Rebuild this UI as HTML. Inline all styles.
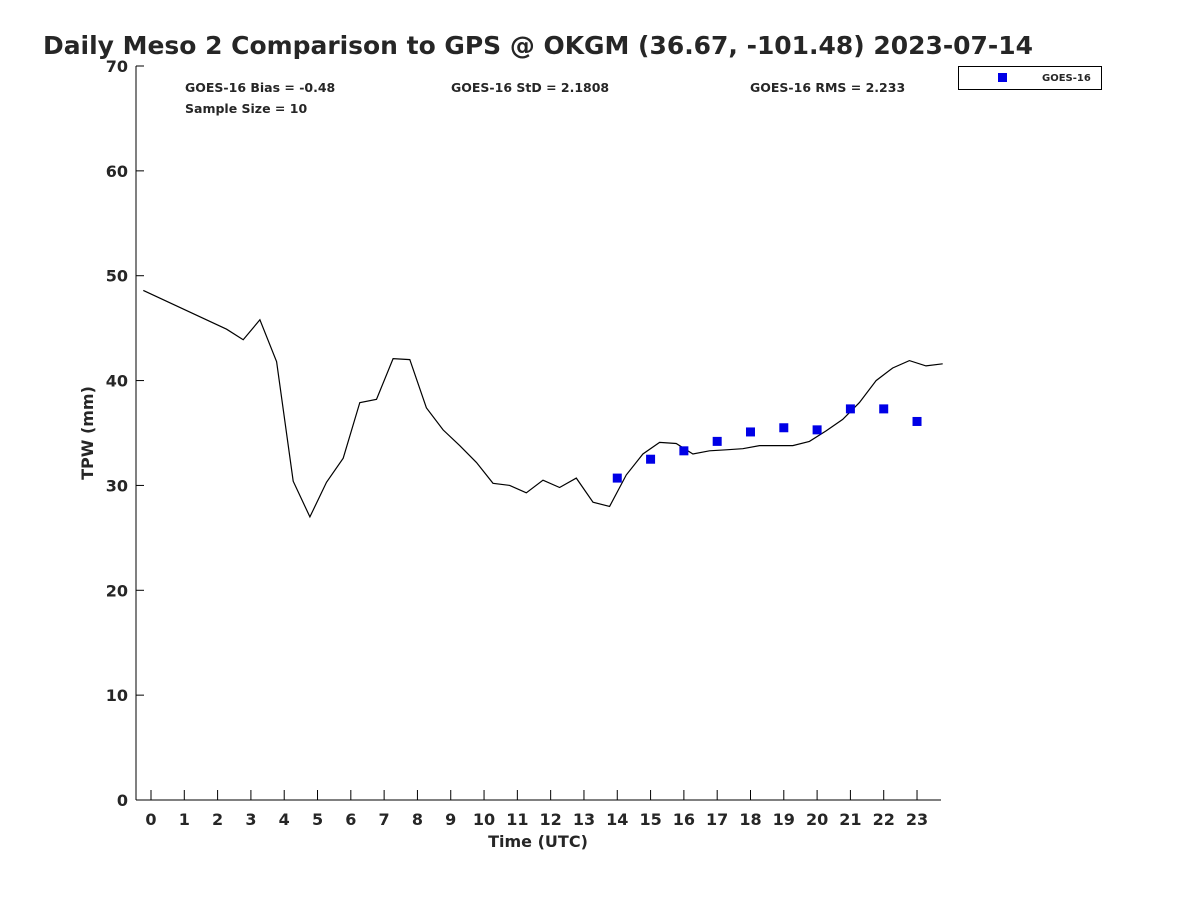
<!DOCTYPE html>
<html><head><meta charset="utf-8"><style>
body{margin:0;background:#fff;}
svg text{font-family:"DejaVu Sans","Liberation Sans",sans-serif;font-weight:bold;fill:#262626;}
</style></head><body>
<svg id="chart" width="1200" height="900" xmlns="http://www.w3.org/2000/svg">
<text x="43" y="54" font-size="25" textLength="990" lengthAdjust="spacingAndGlyphs">Daily Meso 2 Comparison to GPS @ OKGM (36.67, -101.48) 2023-07-14</text>
<g font-size="12.5">
<text x="185" y="92">GOES-16 Bias = -0.48</text>
<text x="185" y="113">Sample Size = 10</text>
<text x="451" y="92">GOES-16 StD = 2.1808</text>
<text x="750" y="92">GOES-16 RMS = 2.233</text>
</g>
<g>
<rect x="958.5" y="66.5" width="143" height="23" fill="#fff" stroke="#000" stroke-width="1"/>
<rect x="998" y="73" width="9" height="9" fill="#0000e6"/>
<text x="1042" y="81" font-size="10">GOES-16</text>
</g>
<g id="axes"></g>
<g id="marks"></g>
<text x="538" y="847" font-size="16" text-anchor="middle">Time (UTC)</text>
<text transform="translate(93,433) rotate(-90)" font-size="16" text-anchor="middle">TPW (mm)</text>
</svg>
<script>
const gpsTimes=[-0.23,2.27,2.77,3.27,3.77,4.27,4.77,5.27,5.77,6.27,6.77,7.27,7.77,8.27,8.77,9.27,9.77,10.27,10.77,11.27,11.77,12.27,12.77,13.27,13.77,14.27,14.77,15.27,15.77,16.27,16.77,17.27,17.77,18.27,18.77,19.27,19.77,20.27,20.77,21.27,21.77,22.27,22.77,23.27,23.77];
const gpsValues=[48.6,44.9,43.9,45.8,41.8,30.4,27.0,30.3,32.6,37.9,38.2,42.1,42.0,37.4,35.3,33.8,32.2,30.2,30.0,29.3,30.5,29.8,30.7,28.4,28.0,31.0,33.0,34.1,34.0,33.0,33.3,33.4,33.5,33.8,33.8,33.8,34.2,35.2,36.3,37.9,40.0,41.2,41.9,41.4,41.6];
const goesTimes=[14,15,16,17,18,19,20,21,22,23];
const goesValues=[30.7,32.5,33.3,34.2,35.1,35.5,35.3,37.3,37.3,36.1];
const xTicks=[0,1,2,3,4,5,6,7,8,9,10,11,12,13,14,15,16,17,18,19,20,21,22,23];
const yTicks=[0,10,20,30,40,50,60,70];
const NS='http://www.w3.org/2000/svg';
const X0=136,X1=941,Y0=800,Y1=66;
const xMin=-0.45,xMax=23.72,yMin=0,yMax=70;
function xs(h){return X0+(h-xMin)/(xMax-xMin)*(X1-X0);}
function ys(v){return Y0-(v-yMin)/(yMax-yMin)*(Y0-Y1);}
function mk(tag,attrs,parent){const e=document.createElementNS(NS,tag);for(const k in attrs)e.setAttribute(k,attrs[k]);parent.appendChild(e);return e;}
const axes=document.getElementById('axes'),marks=document.getElementById('marks');
let e=mk('line',{x1:X0,y1:Y1,x2:X0,y2:Y0,stroke:'#000','stroke-width':1},axes);


e=mk('line',{x1:X0,y1:Y0,x2:X1,y2:Y0,stroke:'#000','stroke-width':1},axes);


yTicks.forEach(v=>{
 const y=ys(v);
 let t=mk('line',{x1:X0,y1:y,x2:X0+8,y2:y,stroke:'#000'},axes);
 
 
 let l=mk('text',{x:X0-8,y:y+6,'font-size':16,'text-anchor':'end'},axes);
 l.textContent=v;
 
 
});
xTicks.forEach(h=>{
 const x=xs(h);
 let t=mk('line',{x1:x,y1:Y0,x2:x,y2:Y0-10,stroke:'#000'},axes);
 
 
 let l=mk('text',{x:x,y:Y0+25,'font-size':16,'text-anchor':'middle'},axes);
 l.textContent=h;
 
 
});
const pts=gpsTimes.map((h,i)=>xs(h).toFixed(1)+','+ys(gpsValues[i]).toFixed(1)).join(' ');
let pl=mk('polyline',{points:pts,fill:'none',stroke:'#000','stroke-width':1.2},marks);


goesTimes.forEach((h,i)=>{
 let r=mk('rect',{x:xs(h)-4.5,y:ys(goesValues[i])-4.5,width:9,height:9,fill:'#0000e6'},marks);
 
 
});
</script>
</body></html>
